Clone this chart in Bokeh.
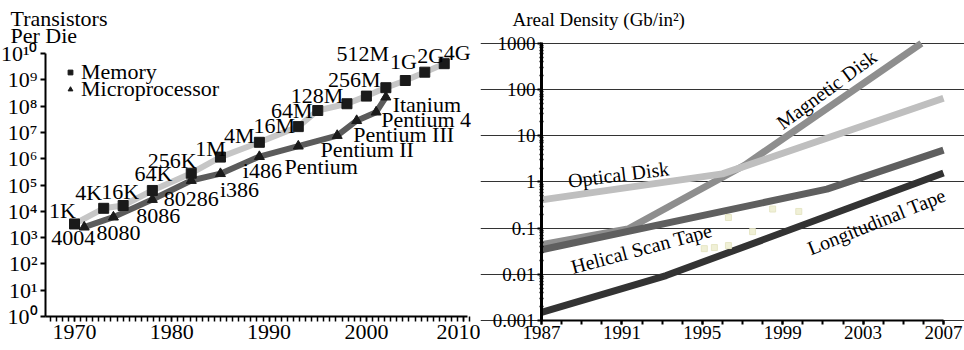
import math
from bokeh.plotting import figure
from bokeh.models import (ColumnDataSource, FixedTicker, LabelSet, Label, Legend,
                          LegendItem, Range1d)
from bokeh.layouts import row
from bokeh.embed import file_html
from bokeh.resources import INLINE

FONT = "Liberation Serif"

# ---------------- Left chart data: transistors per die ----------------
mem_labels = ["1K", "4K", "16K", "64K", "256K", "1M", "4M", "16M", "64M",
              "128M", "256M", "512M", "1G", "2G", "4G"]
mem_years = [1970, 1973, 1975, 1978, 1982, 1985, 1989, 1993, 1995,
             1998, 2000, 2002, 2004, 2006, 2008]
mem_counts = [3.3e3, 1.3e4, 1.66e4, 6.2e4, 2.8e5, 1.15e6, 4.2e6, 1.66e7, 6.8e7,
              1.23e8, 2.4e8, 5.0e8, 9.4e8, 1.95e9, 4.1e9]

cpu_labels = ["4004", "8080", "8086", "80286", "i386", "i486", "Pentium",
              "Pentium II", "Pentium III", "Pentium 4", "Itanium"]
cpu_years = [1971, 1974, 1978, 1982, 1985, 1989, 1993, 1997, 1999, 2001, 2002]
cpu_counts = [2.5e3, 6.0e3, 2.8e4, 1.48e5, 2.7e5, 1.2e6, 3.0e6, 7.6e6, 2.8e7,
              5.9e7, 2.2e8]

year_ticks_left = [1970, 1980, 1990, 2000, 2010]
exp_ticks_left = list(range(0, 11))

# ---------------- Right chart data: areal density ----------------
mag_years = [1987, 1991.3, 1997.1, 2005.9]
mag_density = [0.044, 0.096, 2.3, 1000]
opt_years = [1987, 1996.0, 2007]
opt_density = [0.41, 1.5, 65]
hel_years = [1987, 2001.2, 2007]
hel_density = [0.034, 0.7, 4.9]
lon_years = [1987, 1993.2, 2007]
lon_density = [0.0015, 0.0094, 1.56]
dot_years = [1995.1, 1995.6, 1996.3, 1996.3, 1997.5, 1998.5, 1999.8]
dot_density = [0.036, 0.038, 0.042, 0.17, 0.084, 0.26, 0.23]

year_ticks_right = [1987, 1991, 1995, 1999, 2003, 2007]
density_ticks = [0.001, 0.01, 0.1, 1, 10, 100, 1000]
density_tick_labels = ["0.001", "0.01", "0.1", "1", "10", "100", "1000"]

series_names = ["Optical Disk", "Magnetic Disk", "Helical Scan Tape", "Longitudinal Tape"]

# ---------------- layout (pixels) ----------------
W1, W2, H = 480, 484, 350
# left chart calibration: px per year, px per decade, pixel of anchors
L_PPY, L_PPD, L_X1970, L_Y1 = 9.73, 26.3, 74.0, 316.0
L_AXIS_X = 45.0
# right chart calibration
R_PPY, R_PPD, R_X1987, R_YMIN = 20.1, 46.17, 61.0, 320.0
LSIZE = "22px"


def lx(px):
    return 1970 + (px - L_X1970) / L_PPY


def ly(py):
    return 10 ** ((L_Y1 - py) / L_PPD)


def rx(px):
    return 1987 + (px - R_X1987) / R_PPY


def ry(py):
    return 10 ** (-3 + (R_YMIN - py) / R_PPD)


mem_dx = [-12, -15, -3, 1, -19, -10, -20, -24, -26, -30, -12, -23, -2, 6, 13]
mem_dy = [-13, -16, -14, -17, -13, -9, -7, -1, 0, -8, -17, -34, -19, -17, -11]
cpu_dx = [-11, 5, 6, 0, 19, 3, 23, 30, 47, 50, 41]
cpu_dy = [11, 16, 16, 18, 16, 14, 20, 14, 14, 7, 7]

SUP = str.maketrans("0123456789", "⁰¹²³⁴⁵⁶⁷⁸⁹")


def style_axis(ax, size):
    ax.major_label_text_font = FONT
    ax.major_label_text_font_size = size
    ax.major_label_text_color = "black"
    ax.axis_line_color = "black"
    ax.major_tick_line_color = "black"
    ax.minor_tick_line_color = "black"


def base_fig(w, xr, yr):
    p = figure(width=w, height=H, y_axis_type="log", output_backend="svg",
               toolbar_location=None, x_range=xr, y_range=yr,
               min_border_left=0, min_border_right=0, min_border_top=0,
               min_border_bottom=0)
    p.outline_line_color = None
    p.xgrid.visible = False
    p.background_fill_color = "white"
    p.border_fill_color = "white"
    return p


# ================= LEFT FIGURE =================
p1 = base_fig(W1, Range1d(lx(0), lx(W1)), Range1d(ly(H), ly(0)))
p1.ygrid.visible = False
x_lo, x_hi = lx(L_AXIS_X), lx(467)

xa = p1.xaxis[0]
style_axis(xa, LSIZE)
xa.fixed_location = 1
xa.bounds = (x_lo, x_hi)
xa.ticker = FixedTicker(ticks=year_ticks_left,
                        minor_ticks=[1970 + 0.625 * k for k in range(-4, 66)])
xa.axis_line_width = 2
xa.major_tick_out = 5
xa.major_tick_in = 0
xa.minor_tick_out = 5
xa.minor_tick_in = 0
xa.major_tick_line_width = 1.5
xa.minor_tick_line_width = 1.5
xa.major_label_standoff = 3

ya = p1.yaxis[0]
style_axis(ya, LSIZE)
ya.fixed_location = x_lo
ya.bounds = (1, 1e10)
ya.ticker = FixedTicker(ticks=[10 ** k for k in exp_ticks_left], minor_ticks=[])
ya.major_label_overrides = {10 ** k: "10" + str(k).translate(SUP) for k in exp_ticks_left}
ya.axis_line_width = 2
ya.major_tick_out = 5
ya.major_tick_in = 0
ya.major_tick_line_width = 2
ya.major_label_standoff = 3

mem_src = ColumnDataSource(dict(x=mem_years, y=mem_counts, t=mem_labels,
                                dx=mem_dx, dy=[-v for v in mem_dy]))
cpu_src = ColumnDataSource(dict(x=cpu_years, y=cpu_counts, t=cpu_labels,
                                dx=cpu_dx, dy=[-v for v in cpu_dy]))

p1.line("x", "y", source=mem_src, line_color="#c6c6c6", line_width=6)
p1.line("x", "y", source=cpu_src, line_color="#5b5b5b", line_width=6)
mem_sc = p1.scatter("x", "y", source=mem_src, marker="square", size=10,
                    fill_color="#1a1a1a", line_color="#1a1a1a")
cpu_sc = p1.scatter("x", "y", source=cpu_src, marker="triangle", size=10,
                    fill_color="#1a1a1a", line_color="#1a1a1a")

for src in (mem_src, cpu_src):
    p1.add_layout(LabelSet(x="x", y="y", text="t", source=src,
                           x_offset="dx", y_offset="dy",
                           text_font=FONT, text_font_size=LSIZE,
                           text_color="black", text_align="center",
                           text_baseline="middle"))

for name, rend, top in (("Memory", mem_sc, 55), ("Microprocessor", cpu_sc, 72)):
    lg = Legend(items=[LegendItem(label=name, renderers=[rend])],
                location=(64, H - top - 30), padding=0, margin=0, spacing=0,
                glyph_width=12, glyph_height=16, label_standoff=5,
                label_text_font=FONT, label_text_font_size=LSIZE,
                label_text_color="black", background_fill_alpha=0,
                border_line_color=None)
    p1.add_layout(lg)

p1.add_layout(Label(x=lx(10), y=ly(18), text="Transistors", text_font=FONT,
                    text_font_size=LSIZE, text_baseline="alphabetic",
                    text_color="black"))
p1.add_layout(Label(x=lx(10), y=ly(35), text="Per Die", text_font=FONT,
                    text_font_size=LSIZE, text_baseline="alphabetic",
                    text_color="black"))

# ================= RIGHT FIGURE =================
p2 = base_fig(W2, Range1d(rx(0), rx(W2)), Range1d(ry(H), ry(0)))
p2.ygrid.grid_line_color = "#333333"
p2.ygrid.grid_line_width = 1
p2.ygrid.bounds = (1987, 2007)
p2.ygrid.ticker = FixedTicker(ticks=density_ticks, minor_ticks=[])

xb = p2.xaxis[0]
style_axis(xb, "19px")
xb.fixed_location = 0.001
xb.bounds = (1987, 2007)
xb.ticker = FixedTicker(ticks=year_ticks_right, minor_ticks=list(range(1987, 2008)))
xb.axis_line_width = 2
xb.major_tick_out = 4
xb.major_tick_in = 0
xb.minor_tick_out = 4
xb.minor_tick_in = 0
xb.major_tick_line_width = 2
xb.minor_tick_line_width = 2
xb.major_label_standoff = 1

yb = p2.yaxis[0]
style_axis(yb, "19px")
yb.fixed_location = 1987
yb.bounds = (0.001, 1050)
minor_r = [m * 10.0 ** e for e in range(-3, 3) for m in range(2, 10)]
yb.ticker = FixedTicker(ticks=density_ticks, minor_ticks=minor_r)
yb.major_label_overrides = dict(zip(density_ticks, density_tick_labels))
yb.axis_line_width = 3
yb.major_tick_out = 4
yb.major_tick_in = 0
yb.minor_tick_out = 2
yb.minor_tick_in = 2
yb.major_tick_line_width = 2
yb.minor_tick_line_width = 1.5
yb.major_label_standoff = 2

p2.line(mag_years, mag_density, line_color="#8e8e8e", line_width=7)
p2.line(opt_years, opt_density, line_color="#bfbfbf", line_width=7)
p2.line(hel_years, hel_density, line_color="#5f5f5f", line_width=7)
p2.line(lon_years, lon_density, line_color="#333333", line_width=7)
p2.scatter(dot_years, dot_density, marker="square", size=6,
           fill_color="#f0f0d6", line_color="#e6e6c6")

rl_src = ColumnDataSource(dict(
    t=series_names,
    x=[rx(618 - 480), rx(826 - 480), rx(641 - 480), rx(876 - 480)],
    y=[ry(174), ry(89), ry(248), ry(221)],
    a=[7, 36.5, 15, 22]))
p2.add_layout(LabelSet(x="x", y="y", text="t", angle="a", angle_units="deg",
                       source=rl_src, text_font=FONT, text_font_size="20px",
                       text_color="black", text_align="center",
                       text_baseline="middle"))

p2.add_layout(Label(x=rx(512 - 480), y=ry(19), text="Areal Density (Gb/in²)",
                    text_font=FONT, text_font_size="19px",
                    text_baseline="alphabetic", text_color="black"))

layout = row(p1, p2, spacing=0)
open("out.html", "w").write(file_html(layout, INLINE))
